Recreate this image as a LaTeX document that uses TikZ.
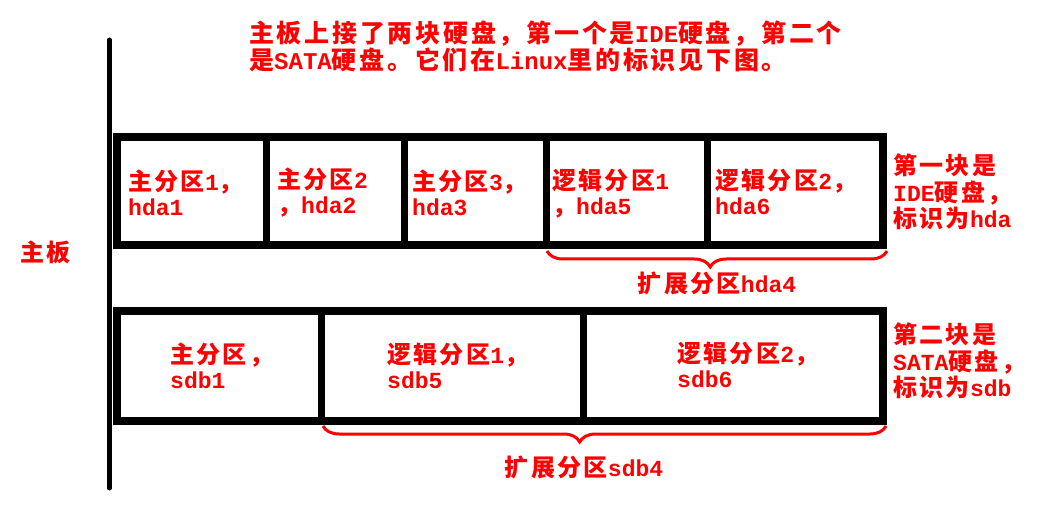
\documentclass[tikz,border=0pt]{standalone}
\usepackage{fontspec}
\usetikzlibrary{decorations.pathreplacing}
\newfontfamily\cjkf{Noto Sans CJK SC}[LetterSpace=10]
\newfontfamily\cjkt{Noto Sans CJK SC}[LetterSpace=11]
\newfontfamily\monof{Liberation Mono}[Scale=0.96]
\newcommand\lnx[1]{{\monof\bfseries #1}}
\tikzset{
  txt/.style={text=red, inner sep=0pt, align=left, anchor=west,
    font=\cjkf\bfseries\fontsize{24}{25}\selectfont},
  ttl/.style={txt, font=\cjkt\bfseries\fontsize{25}{27}\selectfont},
  side/.style={txt, font=\cjkf\bfseries\fontsize{24}{26.5}\selectfont},
  disk/.style={draw=black, line width=8pt},
  divider/.style={draw=black, line width=7pt},
  board/.style={draw=black, line width=5pt, line cap=round},
  brc/.style={draw=red, line width=3pt, decorate,
    decoration={brace, amplitude=16pt, mirror, aspect=#1}},
}
\begin{document}
\begin{tikzpicture}[x=1pt, y=-1pt]
\useasboundingbox (0,0) rectangle (1057,518);
% motherboard bar
\coordinate (bt) at (109.5,40);
\coordinate (bb) at (109.5,488);
\draw[board] (bt) -- (bb);
% disk 1
\draw[disk] (117,137) rectangle (883,245);
\foreach \x in {266,404,546,707} \draw[divider] (\x,137) -- (\x,245);
% disk 2
\draw[disk] (117,311) rectangle (883,421);
\foreach \x in {321,583} \draw[divider] (\x,311) -- (\x,421);
% braces
\coordinate (h4a) at (547,251);
\coordinate (h4b) at (887,251);
\draw[brc=0.48] (h4a) -- (h4b);
\coordinate (s4a) at (323,426);
\coordinate (s4b) at (886,426);
\draw[brc=0.456] (s4a) -- (s4b);
% texts
\node[ttl] (title) at (249,46.5) {主板上接了两块硬盘，第一个是\lnx{IDE}硬盘，第二个\\是\lnx{SATA}硬盘。它们在\lnx{Linux}里的标识见下图。};
\node[txt] (mb) at (20,252) {主板};
\node[txt] (c11) at (128,193) {主分区\lnx{1}，\\\lnx{hda1}};
\node[txt] (c12) at (277,193) {主分区\lnx{2}\\，\lnx{hda2}};
\node[txt] (c13) at (412,193) {主分区\lnx{3}，\\\lnx{hda3}};
\node[txt] (c14) at (552,194) {逻辑分区\lnx{1}\\，\lnx{hda5}};
\node[txt] (c15) at (715,192) {逻辑分区\lnx{2}，\\\lnx{hda6}};
\node[side] (r1) at (893,192) {第一块是\\\lnx{IDE}硬盘，\\标识为\lnx{hda}};
\node[txt] (c21) at (170,366) {主分区，\\\lnx{sdb1}};
\node[txt] (c22) at (387,366) {逻辑分区\lnx{1}，\\\lnx{sdb5}};
\node[txt] (c23) at (677,365) {逻辑分区\lnx{2}，\\\lnx{sdb6}};
\node[side] (r2) at (893,361) {第二块是\\\lnx{SATA}硬盘，\\标识为\lnx{sdb}};
\node[txt, anchor=center] (e1) at (717,283) {扩展分区\lnx{hda4}};
\node[txt, anchor=center] (e2) at (584,467) {扩展分区\lnx{sdb4}};
\end{tikzpicture}
\end{document}
